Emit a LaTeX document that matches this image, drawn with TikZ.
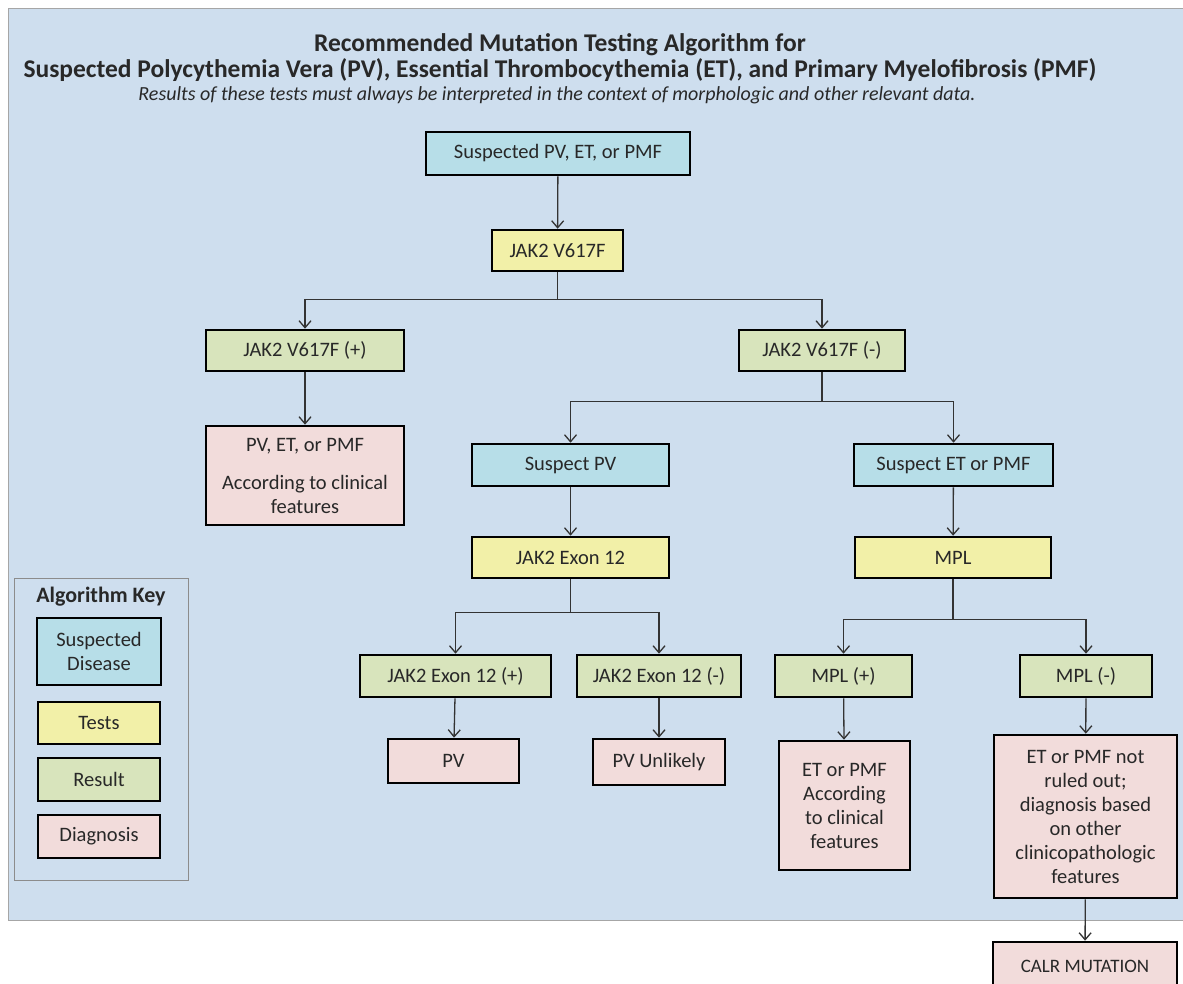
\documentclass[tikz,border=0pt]{standalone}
\usepackage{fontspec}
\setmainfont{Carlito}
\usepackage{tikz}
\usetikzlibrary{arrows.meta}

\definecolor{bgblue}{RGB}{206,222,238}
\definecolor{suspblue}{RGB}{183,222,232}
\definecolor{testyel}{RGB}{242,240,168}
\definecolor{resgreen}{RGB}{216,228,188}
\definecolor{diagpink}{RGB}{242,220,219}
\definecolor{txtgray}{RGB}{40,40,40}

\tikzset{
  algbox/.style={draw=black, line width=2.6pt, inner sep=2pt, text=txtgray, font=\fontsize{20.5}{24}\selectfont, align=center},
  suspbox/.style={algbox, fill=suspblue},
  testbox/.style={algbox, fill=testyel},
  resbox/.style={algbox, fill=resgreen},
  diagbox/.style={algbox, fill=diagpink},
  arr/.style={line width=1.3pt, draw=black!80, -{Straight Barb[length=7pt,width=12pt,line width=1.3pt]}},
  ln/.style={line width=1.3pt, draw=black!80}
}

\begin{document}
\begin{tikzpicture}[x=1pt,y=-1pt]
\useasboundingbox (0,0) rectangle (1183,983);
\clip (0,0) rectangle (1183,983);
%%% background
\fill[white] (0,0) rectangle (1183,983);
\draw[fill=bgblue, draw=black!35, line width=0.8pt] (8,8) rectangle (1190,920);
% title
\node[font=\fontsize{25.5}{28}\bfseries\selectfont, text=txtgray] (title1) at (560,45) {Recommended Mutation Testing Algorithm for};
\node[font=\fontsize{25.5}{28}\bfseries\selectfont, text=txtgray] (title2) at (560,70) {Suspected Polycythemia Vera (PV), Essential Thrombocythemia (ET), and Primary Myelofibrosis (PMF)};
\node[font=\fontsize{20}{22}\itshape\selectfont, text=txtgray] (subtitle) at (557,95) {Results of these tests must always be interpreted in the context of morphologic and other relevant data.};
%%% draws boxes
\node[suspbox, minimum width=264pt, minimum height=43pt] (susp) at (558,153.5) {Suspected PV, ET, or PMF};
\node[testbox, minimum width=131pt, minimum height=41pt] (jak) at (557.5,250.5) {JAK2 V617F};
\node[resbox, minimum width=198pt, minimum height=41pt] (jakpos) at (305,350.5) {JAK2 V617F (+)};
\node[resbox, minimum width=166pt, minimum height=41pt] (jakneg) at (822,350.5) {JAK2 V617F (-)};
\node[diagbox, minimum width=198pt, minimum height=99pt] (anydx) at (305,475.5) {PV, ET, or PMF\\[14pt]According to clinical\\features};
\node[suspbox, minimum width=197pt, minimum height=42pt] (susppv) at (570.5,465) {Suspect PV};
\node[suspbox, minimum width=199pt, minimum height=42pt] (suspet) at (953.5,465) {Suspect ET or PMF};
\node[testbox, minimum width=197pt, minimum height=41pt] (exon) at (570.5,557.5) {JAK2 Exon 12};
\node[testbox, minimum width=196pt, minimum height=41pt] (mpl) at (953,557.5) {MPL};
\node[resbox, minimum width=191pt, minimum height=42pt] (exonpos) at (455.5,676) {JAK2 Exon 12 (+)};
\node[resbox, minimum width=164pt, minimum height=42pt] (exonneg) at (659,676) {JAK2 Exon 12 (-)};
\node[resbox, minimum width=137pt, minimum height=42pt] (mplpos) at (843.5,676) {MPL (+)};
\node[resbox, minimum width=132pt, minimum height=42pt] (mplneg) at (1086,676) {MPL (-)};
\node[diagbox, minimum width=131pt, minimum height=44pt] (pvdx) at (453.5,761) {PV};
\node[diagbox, minimum width=132pt, minimum height=46pt] (pvunl) at (659,762) {PV Unlikely};
\node[diagbox, minimum width=131pt, minimum height=129pt] (etdx) at (844.5,805.5) {ET or PMF\\According\\to clinical\\features};
\node[diagbox, minimum width=183pt, minimum height=163pt] (etnot) at (1085.5,816.5) {ET or PMF not\\ruled out;\\diagnosis based\\on other\\clinicopathologic\\features};
\node[diagbox, minimum width=184pt, minimum height=48pt, font=\fontsize{19}{22}\selectfont] (calr) at (1085,966) {CALR MUTATION};
%%% draws connectors
\coordinate (br1) at ([yshift=-27pt]jak.south);
\coordinate (br2) at ([yshift=-29pt]jakneg.south);
\coordinate (br3) at ([yshift=-33pt]exon.south);
\coordinate (br4) at ([yshift=-40pt]mpl.south);
\draw[arr] (susp) -- (jak);
\draw[ln] (jak.south) -- (br1);
\draw[arr] (br1) -| (jakpos);
\draw[arr] (br1) -| (jakneg);
\draw[arr] (jakpos) -- (anydx);
\draw[ln] (jakneg.south) -- (br2);
\draw[arr] (br2) -| (susppv);
\draw[arr] (br2) -| (suspet);
\draw[arr] (susppv) -- (exon);
\draw[arr] (suspet) -- (mpl);
\draw[ln] (exon.south) -- (br3);
\draw[arr] (br3) -| (exonpos);
\draw[arr] (br3) -| (exonneg);
\draw[ln] (mpl.south) -- (br4);
\draw[arr] (br4) -| (mplpos);
\draw[arr] (br4) -| (mplneg);
\draw[arr] (exonpos) -- (pvdx);
\draw[arr] (exonneg) -- (pvunl);
\draw[arr] (mplpos) -- (etdx);
\draw[arr] (mplneg) -- (etnot);
\draw[arr] (etnot) -- (calr);
%%% algorithm key
\draw[draw=black!45, line width=1pt] (14,578) rectangle (188,880);
\node[font=\fontsize{22}{24}\bfseries\selectfont, text=txtgray] (keytitle) at (101,597) {Algorithm Key};
\node[suspbox, minimum width=124pt, minimum height=67pt] (keysusp) at (99,651.5) {Suspected\\Disease};
\node[testbox, minimum width=122pt, minimum height=42pt] (keytest) at (99,723) {Tests};
\node[resbox, minimum width=122pt, minimum height=43pt] (keyres) at (99,779.5) {Result};
\node[diagbox, minimum width=122pt, minimum height=43pt] (keydiag) at (99,836.5) {Diagnosis};
\end{tikzpicture}
\end{document}
